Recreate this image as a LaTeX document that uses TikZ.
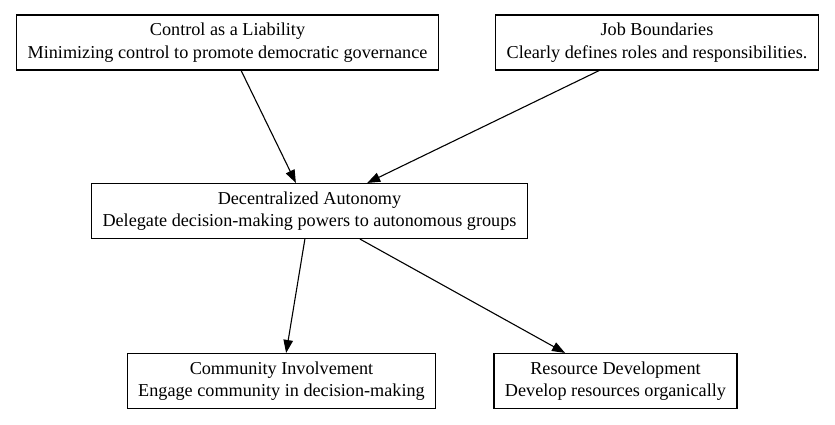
\documentclass[tikz,border=0pt]{standalone}
\usepackage{fontspec}
\setmainfont{Liberation Serif}
\usepackage{tikz}
\usetikzlibrary{arrows.meta}

\tikzset{
    box/.style={draw, line width=1.1pt, rectangle, align=center, inner xsep=11pt,
        minimum height=55pt, font=\fontsize{18.2}{22.6}\selectfont},
    link/.style={line width=1.1pt, -{Triangle[length=13pt,width=9.5pt]}}
}

\begin{document}
\begin{tikzpicture}[x=1pt,y=-1pt]
    \useasboundingbox (0,0) rectangle (835,425);
    \node[box] (control) at (227.5,42.5) {Control as a Liability\\Minimizing control to promote democratic governance};
    \node[box] (job) at (657,42.5) {Job Boundaries\\Clearly defines roles and responsibilities.};
    \node[box] (auto) at (309.5,211) {Decentralized Autonomy\\Delegate decision-making powers to autonomous groups};
    \node[box] (comm) at (281.5,381) {Community Involvement\\Engage community in decision-making};
    \node[box] (res) at (615.5,381) {Resource Development\\Develop resources organically};
    \draw[link] (control) -- (auto);
    \draw[link] (job) -- (auto);
    \draw[link] (auto) -- (comm);
    \draw[link] (auto) -- (res);
\end{tikzpicture}
\end{document}
